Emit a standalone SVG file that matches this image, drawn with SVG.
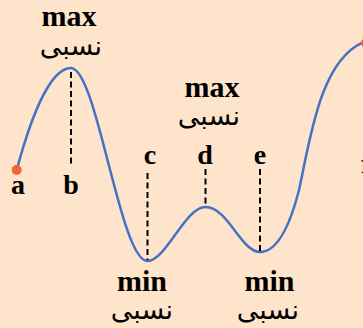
<svg xmlns="http://www.w3.org/2000/svg" width="363" height="328" viewBox="0 0 363 328">
<style>
.lt{font-family:"Liberation Serif","Times New Roman",serif;font-weight:bold;fill:#000;text-anchor:middle}
.big{font-size:30px}
.let{font-size:28px}
.ar{font-family:"DejaVu Sans","Noto Sans",sans-serif;font-size:27px;fill:#000;text-anchor:middle}
.dash{stroke:#000;stroke-width:2;stroke-dasharray:6 3.5;fill:none}
.curve{stroke:#4472C4;stroke-width:2.5;fill:none}
.dot{fill:#F26430}
</style>
<rect width="363" height="328" fill="#FDE4CB"/>
<g id="connectors">
<path class="curve" d="M16.7,170 C28,128 48,68 71,68 C97,68 120,261 147.5,261 C166,261 185,207 205.5,207 C228,207 241,252 260,252 C278,252 290,225 299,190 C310,140 320,60 364,42"/>
<line class="dash" x1="71" y1="72" x2="71" y2="164"/>
<line class="dash" x1="147.5" y1="173" x2="147.5" y2="260"/>
<line class="dash" x1="205.5" y1="169" x2="205.5" y2="206"/>
<line class="dash" x1="260" y1="169" x2="260" y2="251"/>
</g>
<g id="point-a"><circle class="dot" cx="16.7" cy="170" r="5"/><text class="lt let" x="18" y="194">a</text></g>
<g id="point-end"><circle class="dot" cx="366" cy="43" r="5"/><text class="lt let" x="361" y="173" style="text-anchor:start">f</text></g>
<g id="point-b"><text class="lt let" x="71" y="194">b</text></g>
<g id="point-c"><text class="lt let" x="150" y="164">c</text></g>
<g id="point-d"><text class="lt let" x="205" y="164">d</text></g>
<g id="point-e"><text class="lt let" x="260" y="164">e</text></g>
<g id="max1"><text class="lt big" x="69" y="26">max</text><text class="ar" x="71" y="55">نسبی</text></g>
<g id="max2"><text class="lt big" x="212" y="97">max</text><text class="ar" x="209" y="125">نسبی</text></g>
<g id="min1"><text class="lt big" x="142" y="291">min</text><text class="ar" x="142" y="319">نسبی</text></g>
<g id="min2"><text class="lt big" x="269.5" y="291">min</text><text class="ar" x="268" y="319">نسبی</text></g>
</svg>
